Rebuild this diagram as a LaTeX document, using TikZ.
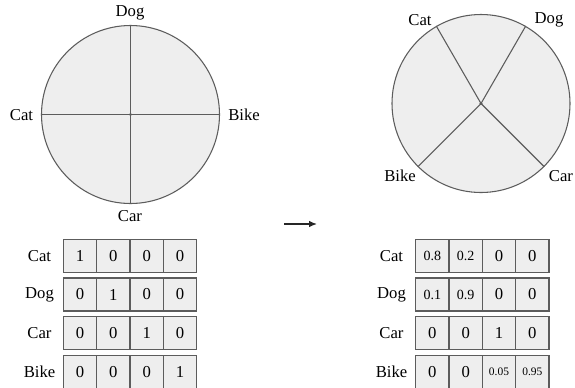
\documentclass[tikz,border=0pt]{standalone}
\usepackage{fontspec}
\setmainfont{Liberation Serif}
\definecolor{edgegray}{HTML}{5C5C5C}
\definecolor{facegray}{HTML}{EEEEEE}
\usetikzlibrary{arrows.meta}
\tikzset{
  disc/.style={circle, draw=edgegray, fill=facegray, line width=0.8pt, minimum size=133.5pt, inner sep=0pt},
  spoke/.style={draw=edgegray, line width=0.8pt},
  hub/.style={circle, fill=edgegray, minimum size=2.4pt, inner sep=0pt},
  lbl/.style={font=\fontsize{12.5}{14}\selectfont, inner sep=0pt},
  cell/.style={draw=edgegray, fill=facegray, line width=0.8pt, minimum width=25pt, minimum height=24.75pt, inner sep=0pt, font=\fontsize{12.5}{14}\selectfont},
  smallnum/.style={font=\fontsize{10.5}{12}\selectfont},
  tinynum/.style={font=\fontsize{8.6}{10}\selectfont},
  flow/.style={draw=black!85, line width=1pt, -{Latex[length=6pt,width=5pt]}}
}
\begin{document}
\begin{tikzpicture}[x=0.75pt, y=-0.75pt]
\useasboundingbox (0,0) rectangle (575,387);

% one-hot directions: four orthogonal axes
\node[disc] (L) at (130.5,114.5) {};
\node[hub] (Lc) at (L.center) {};
\draw[spoke] (L.north) -- (L.south);
\draw[spoke] (L.west) -- (L.east);
\node[lbl] (Ldog) at (130,13) {Dog};
\node[lbl] (Lcat) at (21.5,115) {Cat};
\node[lbl] (Lbike) at (244,115) {Bike};
\node[lbl] (Lcar) at (130,216) {Car};

% learned directions: related words close together
\node[disc] (R) at (481,103.5) {};
\node[hub] (Rc) at (R.center) {};
\draw[spoke] (Rc.center) -- (R.120);
\draw[spoke] (Rc.center) -- (R.60);
\draw[spoke] (Rc.center) -- (R.225);
\draw[spoke] (Rc.center) -- (R.315);
\node[lbl] (Rcat) at (420,20) {Cat};
\node[lbl] (Rdog) at (549,20) {Dog};
\node[lbl] (Rbike) at (400,176) {Bike};
\node[lbl] (Rcar) at (561,176) {Car};

% transition arrow
\coordinate (a0) at (284,224);
\coordinate (a1) at (317,224);
\draw[flow] (a0) -- (a1);

% one-hot vectors
\foreach \name/\y/\a/\b/\c/\d in {Cat/255.8/1/0/0/0, Dog/294.5/0/1/0/0, Car/333.3/0/0/1/0, Bike/371.9/0/0/0/1}{
  \node[lbl] (l\name) at (39.5,\y) {\name};
  \node[cell] (l\name1) at (80,\y) {\a};
  \node[cell] (l\name2) at (113.3,\y) {\b};
  \node[cell] (l\name3) at (146.7,\y) {\c};
  \node[cell] (l\name4) at (180,\y) {\d};
}

% dense vectors
\node[lbl] (rCat) at (391.5,255.8) {Cat};
\node[cell,smallnum] (rCat1) at (432.3,255.8) {0.8};
\node[cell,smallnum] (rCat2) at (465.7,255.8) {0.2};
\node[cell] (rCat3) at (499,255.8) {0};
\node[cell] (rCat4) at (532.3,255.8) {0};

\node[lbl] (rDog) at (391.5,294.5) {Dog};
\node[cell,smallnum] (rDog1) at (432.3,294.5) {0.1};
\node[cell,smallnum] (rDog2) at (465.7,294.5) {0.9};
\node[cell] (rDog3) at (499,294.5) {0};
\node[cell] (rDog4) at (532.3,294.5) {0};

\node[lbl] (rCar) at (391.5,333.3) {Car};
\node[cell] (rCar1) at (432.3,333.3) {0};
\node[cell] (rCar2) at (465.7,333.3) {0};
\node[cell] (rCar3) at (499,333.3) {1};
\node[cell] (rCar4) at (532.3,333.3) {0};

\node[lbl] (rBike) at (391.5,371.9) {Bike};
\node[cell] (rBike1) at (432.3,371.9) {0};
\node[cell] (rBike2) at (465.7,371.9) {0};
\node[cell,tinynum] (rBike3) at (499,371.9) {0.05};
\node[cell,tinynum] (rBike4) at (532.3,371.9) {0.95};
\end{tikzpicture}
\end{document}
